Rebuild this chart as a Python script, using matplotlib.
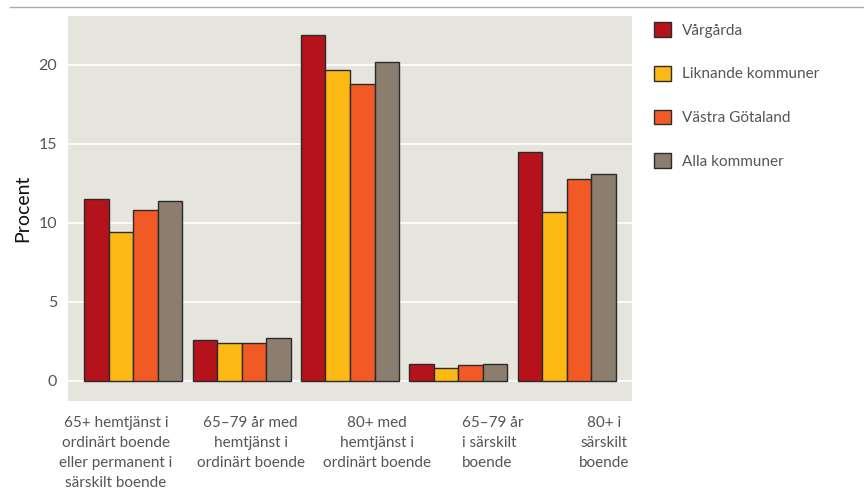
import matplotlib
matplotlib.use("Agg")
import matplotlib.pyplot as plt
import numpy as np
from matplotlib.patches import Patch
from matplotlib.lines import Line2D
import matplotlib.transforms as mtransforms

categories = [
    "65+ hemtjänst i\nordinärt boende\neller permanent i\nsärskilt boende",
    "65–79 år med\nhemtjänst i\nordinärt boende",
    "80+ med\nhemtjänst i\nordinärt boende",
    "65–79 år\ni särskilt\nboende",
    "80+ i\nsärskilt\nboende",
]
series_names = ["Vårgårda", "Liknande kommuner", "Västra Götaland", "Alla kommuner"]
vargarda = [11.5, 2.6, 21.9, 1.1, 14.5]
liknande = [9.4, 2.4, 19.7, 0.8, 10.7]
vastra = [10.8, 2.4, 18.8, 1.0, 12.8]
alla = [11.4, 2.7, 20.2, 1.1, 13.1]
yticks = [0, 5, 10, 15, 20]

colors = ["#B5121B", "#FDB913", "#F15A24", "#8B7E6F"]
series = [vargarda, liknande, vastra, alla]

plt.rcParams['font.family'] = ['Lato', 'DejaVu Sans']

fig = plt.figure(figsize=(8.64, 4.90), dpi=100)
ax = fig.add_axes([68/864, 1 - 401/490, (632-68)/864, (401-16)/490])
ax.set_facecolor("#E5E4DD")

x = np.arange(len(categories))
w = 0.226
for i, (vals, c) in enumerate(zip(series, colors)):
    ax.bar(x + (i - 1.5) * w, vals, width=w, color=c, edgecolor="#2b2b2b",
           linewidth=1.0, zorder=3, label=series_names[i])

ax.set_xlim(-0.6, 4.6)
ax.set_ylim(-1.27, 23.1)
ax.set_yticks(yticks)
ax.set_yticklabels([str(t) for t in yticks], fontsize=11.5, color="#555555")
ax.grid(axis="y", color="white", linewidth=1.2, zorder=0)
ax.set_axisbelow(True)
for s in ax.spines.values():
    s.set_visible(False)
ax.tick_params(axis="both", length=0)
ax.tick_params(axis="y", pad=8)

ax.set_xticks(x)
ax.set_xticklabels(categories, fontsize=11, color="#555555", linespacing=1.55)
ax.tick_params(axis="x", pad=11)
offsets_px = [-17, 9, 27, 34, 37]
for lbl, off in zip(ax.get_xticklabels(), offsets_px):
    lbl.set_transform(lbl.get_transform() + mtransforms.ScaledTranslation(off/100, 0, fig.dpi_scale_trans))
    lbl.set_ha("center")
ax.get_xticklabels()[3].set_multialignment("left")

ax.set_ylabel("Procent", fontsize=14, color="#111111", labelpad=5)

# top rule
fig.add_artist(Line2D([10/864, 1], [1 - 7/490, 1 - 7/490], color="#aaaaaa", linewidth=1.0))

handles = [Patch(facecolor=c, edgecolor="#2b2b2b", linewidth=1.0) for c in colors]
fig.legend(handles, series_names, loc="upper left", bbox_to_anchor=(648/864, 1 - 16/490),
           frameon=False, fontsize=11, labelcolor="#555555", handlelength=1.1,
           handleheight=1.1, handletextpad=0.7, labelspacing=1.85, borderaxespad=0)

fig.savefig("out.png", dpi=100)
